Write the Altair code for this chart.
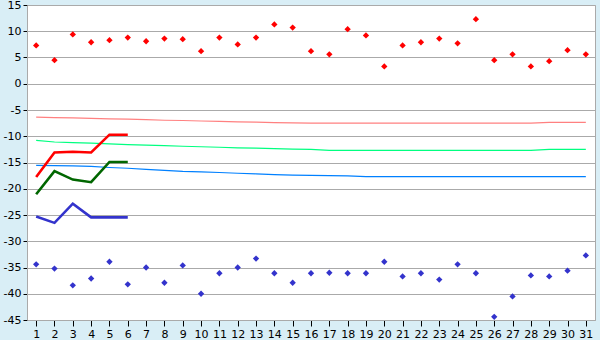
import altair as alt
import pandas as pd

days = list(range(1, 32))

record_max = [7.3, 4.5, 9.4, 7.9, 8.3, 8.8, 8.1, 8.6, 8.5, 6.2, 8.8, 7.5, 8.8, 11.3, 10.7,
              6.2, 5.6, 10.4, 9.2, 3.3, 7.3, 7.9, 8.6, 7.7, 12.3, 4.5, 5.6, 3.3, 4.3, 6.4, 5.6]
record_min = [-34.4, -35.2, -38.4, -37.1, -33.9, -38.2, -35.0, -37.9, -34.6, -40.0, -36.1,
              -35.0, -33.3, -36.1, -37.9, -36.1, -36.0, -36.1, -36.1, -33.9, -36.7, -36.1,
              -37.3, -34.4, -36.1, -44.4, -40.5, -36.5, -36.7, -35.6, -32.7]

normal_max = [-6.35, -6.45, -6.5, -6.6, -6.7, -6.75, -6.85, -6.95, -7.0, -7.1, -7.15, -7.25,
              -7.3, -7.4, -7.45, -7.5, -7.5, -7.5, -7.5, -7.5, -7.5, -7.5, -7.5, -7.5, -7.5,
              -7.5, -7.5, -7.5, -7.35, -7.35, -7.35]
normal_mean = [-10.8, -11.1, -11.2, -11.3, -11.45, -11.6, -11.7, -11.8, -11.9, -12.0, -12.1,
               -12.2, -12.25, -12.35, -12.45, -12.5, -12.7, -12.7, -12.7, -12.7, -12.7, -12.7,
               -12.7, -12.7, -12.7, -12.7, -12.7, -12.7, -12.5, -12.5, -12.5]
normal_min = [-15.55, -15.6, -15.65, -15.75, -15.95, -16.1, -16.3, -16.5, -16.7, -16.8, -16.9,
              -17.05, -17.15, -17.3, -17.4, -17.45, -17.5, -17.55, -17.7, -17.7, -17.7, -17.7,
              -17.7, -17.7, -17.7, -17.7, -17.7, -17.7, -17.7, -17.7, -17.7]

cur_days = [1, 2, 3, 4, 5, 6]
cur_max = [-17.75, -13.1, -12.95, -13.1, -9.7, -9.7]
cur_mean = [-21.05, -16.65, -18.25, -18.75, -14.9, -14.9]
cur_min = [-25.3, -26.5, -22.85, -25.45, -25.45, -25.45]

y_ticks = list(range(-45, 16, 5))

df_norm = pd.concat([
    pd.DataFrame({"day": days, "t": normal_max, "s": "nmax"}),
    pd.DataFrame({"day": days, "t": normal_mean, "s": "nmean"}),
    pd.DataFrame({"day": days, "t": normal_min, "s": "nmin"}),
])
df_cur = pd.concat([
    pd.DataFrame({"day": cur_days, "t": cur_max, "s": "cmax"}),
    pd.DataFrame({"day": cur_days, "t": cur_mean, "s": "cmean"}),
    pd.DataFrame({"day": cur_days, "t": cur_min, "s": "cmin"}),
])
df_rec = pd.concat([
    pd.DataFrame({"day": days, "t": record_max, "s": "rmax"}),
    pd.DataFrame({"day": days, "t": record_min, "s": "rmin"}),
])

color_scale = alt.Scale(
    domain=["nmax", "nmean", "nmin", "cmax", "cmean", "cmin", "rmax", "rmin"],
    range=["#ff8080", "#00ff80", "#0080ff", "#ff0000", "#006600", "#3333cc", "#ff0000", "#3333cc"],
)

x_enc = alt.X("day:Q",
              scale=alt.Scale(domain=[0.5, 31.5], nice=False, zero=False),
              axis=alt.Axis(values=days, title=None, grid=False, domainColor="#aaaaaa",
                            tickColor="#000000", tickSize=6, labelFontSize=11,
                            labelFont="DejaVu Sans", labelColor="#000000", labelPadding=2,
                            labelFlush=False))
y_enc = alt.Y("t:Q",
              scale=alt.Scale(domain=[-45, 15], nice=False, zero=False),
              axis=alt.Axis(values=y_ticks, title=None, grid=True, gridColor="#aaaaaa",
                            gridWidth=1, domainColor="#aaaaaa", tickColor="#000000",
                            tickSize=4, labelFontSize=11, labelFont="DejaVu Sans",
                            labelColor="#000000", labelPadding=2,
                            labelExpr="'' + datum.value"))
c_enc = alt.Color("s:N", scale=color_scale, legend=None)

norm = alt.Chart(df_norm).mark_line(strokeWidth=1.2).encode(x=x_enc, y=y_enc, color=c_enc, detail="s:N")
cur = alt.Chart(df_cur).mark_line(strokeWidth=2.6).encode(x=x_enc, y=y_enc, color=c_enc, detail="s:N")
rec = alt.Chart(df_rec).mark_point(shape="diamond", filled=True, size=40, opacity=1).encode(
    x=x_enc, y=y_enc, color=c_enc)

chart = alt.layer(norm, cur, rec).properties(
    width=568, height=315,
    autosize=alt.AutoSizeParams(type="none"),
    padding={"left": 27, "top": 5, "right": 5, "bottom": 20},
    background="#d9eef6",
).configure_view(fill="#ffffff", stroke="#aaaaaa", strokeWidth=1)

chart.save("out.html", embed_options={"renderer": "svg", "actions": False})
